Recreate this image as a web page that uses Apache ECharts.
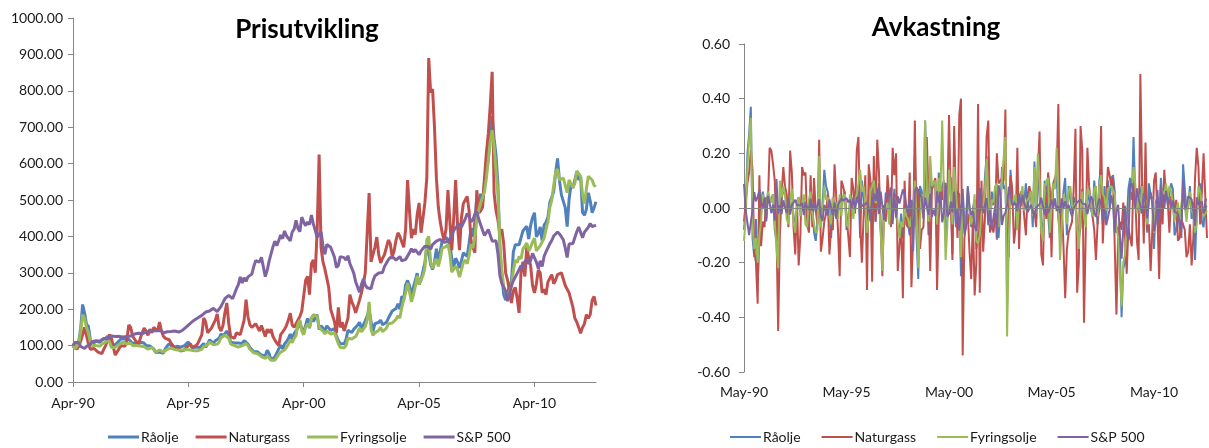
<!DOCTYPE html>
<html>
<head>
<meta charset="utf-8">
<title>Prisutvikling og avkastning</title>
<script src="https://cdn.jsdelivr.net/npm/echarts/dist/echarts.min.js"></script>
<style>
    html, body { margin: 0; padding: 0; background: #fff; }
    #chart { width: 1209px; height: 448px; }
</style>
</head>
<body>
<div id="chart"></div>
<script>
// names of the four series
var seriesNames = ['Råolje', 'Naturgass', 'Fyringsolje', 'S&P 500'];
var seriesColors = ['#4F81BD', '#C0504D', '#9BBB59', '#8064A2'];

// x tick labels (one every 60 months)
var priceTicks = ['Apr-90', 'Apr-95', 'Apr-00', 'Apr-05', 'Apr-10'];
var returnTicks = ['May-90', 'May-95', 'May-00', 'May-05', 'May-10'];
var tickMonths = [0, 60, 120, 180, 240];

// price index, monthly Apr-90 .. Dec-12 (Apr-90 = 100)
var raoljePris = [
    100, 92, 92, 112, 147, 213, 190, 159, 153,
    116, 104, 106, 112, 114, 109, 116, 118, 120, 126, 116, 103,
    102, 102, 105, 113, 119, 121, 118, 115, 117, 113, 106, 105,
    109, 110, 109, 111, 107, 100, 97, 99, 100, 91, 81, 77,
    82, 78, 79, 91, 99, 105, 106, 95, 99, 98, 98, 96,
    99, 100, 104, 110, 102, 94, 95, 96, 94, 95, 98, 106,
    95, 105, 116, 114, 107, 113, 110, 120, 132, 126, 128, 140,
    130, 109, 110, 107, 112, 107, 108, 106, 114, 113, 104, 95,
    93, 83, 84, 83, 82, 74, 76, 72, 87, 78, 60, 65,
    69, 66, 91, 101, 91, 104, 111, 119, 132, 117, 133, 138,
    149, 164, 145, 139, 156, 175, 148, 178, 166, 176, 185, 144,
    155, 148, 142, 154, 153, 142, 142, 147, 126, 114, 105, 107,
    105, 117, 142, 147, 136, 145, 146, 156, 164, 147, 145, 168,
    181, 197, 167, 139, 160, 163, 164, 170, 157, 157, 164, 175,
    178, 195, 193, 202, 215, 200, 236, 227, 267, 279, 265, 235,
    260, 279, 299, 268, 280, 305, 327, 371, 357, 322, 309, 329,
    366, 331, 359, 388, 384, 398, 401, 379, 339, 316, 340, 329,
    313, 333, 355, 354, 345, 381, 422, 399, 440, 509, 478, 517,
    495, 549, 548, 612, 687, 730, 669, 623, 542, 365, 293, 240,
    225, 241, 268, 275, 357, 377, 375, 377, 381, 415, 417, 428,
    393, 430, 452, 465, 399, 408, 426, 388, 431, 439, 453, 493,
    497, 523, 575, 614, 554, 514, 516, 479, 427, 502, 541, 533,
    531, 577, 555, 565, 466, 458, 475, 520, 497, 465, 479, 495
];
var naturgassPris = [
    100, 95, 90, 98, 112, 130, 150, 128, 105,
    90, 88, 92, 88, 82, 85, 78, 90, 100, 118, 130, 120,
    95, 74, 78, 92, 100, 105, 98, 115, 157, 150, 126, 130,
    110, 100, 120, 135, 148, 140, 128, 145, 135, 150, 148, 140,
    165, 140, 126, 120, 118, 116, 107, 100, 92, 88, 92, 85,
    90, 88, 95, 100, 105, 95, 90, 100, 107, 105, 130, 176,
    165, 135, 131, 148, 145, 170, 187, 150, 140, 155, 190, 217,
    160, 125, 126, 120, 135, 140, 130, 150, 170, 226, 180, 157,
    150, 145, 160, 150, 140, 155, 140, 125, 145, 135, 145, 125,
    115, 107, 100, 130, 137, 145, 155, 170, 189, 157, 150, 160,
    165, 180, 195, 200, 280, 290, 240, 325, 335, 300, 420, 625,
    370, 330, 310, 305, 260, 200, 195, 165, 135, 205, 150, 165,
    140, 135, 175, 240, 220, 208, 190, 185, 225, 245, 270, 300,
    300, 519, 330, 327, 370, 398, 350, 327, 340, 350, 370, 390,
    380, 344, 360, 390, 410, 400, 395, 370, 420, 555, 470, 395,
    420, 405, 460, 492, 410, 450, 492, 560, 890, 795, 805, 700,
    560, 480, 440, 410, 390, 420, 527, 440, 362, 450, 555, 430,
    362, 450, 490, 500, 510, 470, 390, 370, 355, 527, 464, 470,
    480, 560, 630, 683, 760, 852, 519, 470, 445, 410, 420, 380,
    300, 280, 250, 217, 250, 260, 230, 190, 300, 330, 290, 370,
    340, 320, 265, 245, 270, 308, 300, 245, 255, 240, 275, 285,
    295, 270, 280, 295, 290, 300, 295, 265, 255, 245, 225, 205,
    175, 165, 150, 134, 150, 160, 185, 175, 185, 225, 235, 210
];
var fyringsoljePris = [
    100, 92, 90, 105, 140, 185, 175, 150, 135,
    110, 100, 95, 100, 102, 98, 104, 108, 110, 116, 110, 95,
    93, 95, 97, 103, 108, 110, 107, 104, 108, 107, 100, 98,
    100, 101, 99, 100, 97, 92, 90, 93, 95, 90, 82, 80,
    88, 84, 82, 87, 90, 92, 93, 88, 89, 88, 87, 86,
    88, 88, 89, 92, 88, 84, 86, 87, 86, 87, 90, 98,
    96, 102, 110, 112, 102, 98, 104, 110, 122, 125, 128, 130,
    120, 104, 102, 100, 102, 96, 100, 100, 104, 106, 100, 90,
    86, 80, 80, 78, 75, 70, 68, 65, 72, 70, 60, 57,
    60, 58, 76, 82, 78, 88, 95, 104, 115, 108, 120, 128,
    160, 170, 140, 130, 150, 160, 150, 175, 185, 182, 180, 150,
    152, 140, 132, 140, 140, 132, 128, 135, 120, 105, 95, 93,
    94, 100, 120, 125, 118, 122, 125, 135, 148, 138, 136, 152,
    170, 220, 145, 128, 135, 138, 142, 150, 138, 142, 148, 160,
    158, 162, 165, 172, 182, 176, 205, 200, 245, 272, 248, 220,
    238, 262, 292, 268, 268, 292, 312, 390, 400, 330, 312, 328,
    338, 318, 338, 368, 372, 372, 378, 352, 302, 298, 318, 308,
    288, 308, 328, 335, 325, 348, 378, 368, 398, 448, 472, 492,
    488, 522, 560, 608, 660, 692, 648, 580, 520, 380, 310, 262,
    245, 232, 248, 262, 305, 335, 328, 345, 338, 365, 370, 382,
    360, 370, 385, 395, 360, 365, 375, 370, 395, 420, 440, 480,
    500, 540, 575, 585, 555, 550, 560, 540, 520, 555, 560, 535,
    545, 580, 575, 565, 515, 490, 530, 565, 570, 555, 540, 537
];
var sp500Pris = [
    100, 109.2, 108.2, 107.7, 97.5, 92.5, 91.9, 97.4, 99.8,
    104.0, 111.0, 113.4, 113.5, 117.8, 112.2, 117.2, 119.5, 117.3, 118.7, 113.4, 126.1,
    123.6, 124.8, 122.0, 125.4, 125.6, 123.4, 128.2, 125.2, 126.3, 126.6, 130.4, 131.7,
    132.7, 134.0, 136.6, 133.1, 136.1, 136.3, 135.5, 140.2, 138.7, 141.4, 139.6, 141.0,
    145.6, 141.2, 134.8, 136.3, 138.0, 134.3, 138.5, 143.7, 139.9, 142.8, 137.2, 138.8,
    142.2, 147.3, 151.4, 155.6, 161.2, 164.7, 169.9, 169.9, 176.7, 175.8, 183.0, 186.2,
    192.3, 193.6, 195.1, 197.8, 202.3, 202.7, 193.4, 197.1, 207.8, 213.2, 228.8, 223.9,
    237.7, 239.1, 228.9, 242.2, 256.4, 267.6, 288.5, 271.9, 286.4, 276.5, 288.8, 293.4,
    296.3, 317.2, 333.1, 336.1, 329.7, 342.8, 338.8, 289.4, 307.4, 332.1, 351.8, 371.6,
    386.8, 374.3, 388.9, 403.6, 393.5, 415.0, 401.7, 399.2, 387.8, 412.0, 419.9, 444.2,
    421.6, 413.1, 453.0, 439.1, 429.5, 439.7, 432.5, 458.8, 434.3, 432.1, 397.6, 399.1,
    413.0, 374.8, 350.8, 377.7, 379.6, 370.1, 366.2, 342.7, 314.7, 320.4, 344.5, 347.1,
    341.7, 334.6, 346.9, 325.6, 322.6, 299.2, 275.6, 276.9, 246.5, 267.8, 283.1, 266.0,
    258.7, 254.3, 256.4, 277.2, 291.3, 294.6, 299.4, 304.7, 301.1, 317.6, 319.9, 336.1,
    341.9, 346.1, 340.5, 334.7, 338.8, 344.9, 333.0, 333.8, 336.9, 341.7, 354.8, 366.4,
    357.1, 363.9, 356.9, 349.7, 360.2, 360.1, 373.1, 368.9, 371.5, 364.9, 377.7, 377.4,
    387.0, 387.2, 391.5, 396.2, 384.0, 384.0, 386.0, 394.2, 403.9, 416.6, 423.4, 428.8,
    434.8, 425.3, 429.5, 448.1, 462.7, 454.5, 440.0, 445.6, 461.6, 468.4, 447.7, 443.9,
    416.8, 402.3, 399.9, 418.9, 423.4, 387.0, 383.2, 387.8, 352.6, 292.9, 270.9, 273.1,
    249.7, 222.2, 241.2, 263.9, 277.9, 277.9, 298.5, 308.5, 319.6, 313.3, 331.2, 337.1,
    324.7, 333.9, 353.5, 358.7, 329.3, 311.6, 333.0, 317.2, 345.0, 357.7, 356.9, 380.2,
    388.8, 401.2, 400.8, 412.2, 406.7, 399.2, 390.7, 368.5, 342.0, 378.9, 377.0, 380.2,
    396.8, 412.9, 425.8, 422.6, 396.1, 411.8, 417.0, 425.2, 435.5, 426.9, 428.1, 431.2
];

// monthly returns May-90 .. Dec-12
var raoljeAvk = [
    -0.08, 0.00, 0.20, 0.27, 0.37, -0.11, -0.18, -0.04,
    -0.28, -0.11, 0.02, 0.06, 0.02, -0.04, 0.06, 0.02, 0.02, 0.05, -0.08, -0.12,
    -0.01, 0.00, 0.03, 0.07, 0.05, 0.02, -0.03, -0.03, 0.02, -0.03, -0.06, -0.01,
    0.04, 0.01, -0.01, 0.02, -0.04, -0.07, -0.03, 0.02, 0.01, -0.09, -0.12, -0.05,
    0.06, -0.05, 0.01, 0.14, 0.08, 0.06, 0.01, -0.11, 0.04, -0.01, 0.00, -0.02,
    0.03, 0.01, 0.04, 0.06, -0.08, -0.08, 0.01, 0.01, -0.02, 0.01, 0.03, 0.08,
    -0.11, 0.10, 0.10, -0.02, -0.06, 0.05, -0.03, 0.09, 0.10, -0.05, 0.02, 0.09,
    -0.07, -0.18, 0.01, -0.03, 0.05, -0.05, 0.01, -0.02, 0.07, -0.01, -0.08, -0.09,
    -0.02, -0.11, 0.01, -0.01, -0.01, -0.10, 0.03, -0.05, 0.19, -0.11, -0.26, 0.08,
    0.06, -0.04, 0.32, 0.10, -0.10, 0.13, 0.07, 0.07, 0.10, -0.12, 0.13, 0.04,
    0.08, 0.10, -0.12, -0.04, 0.12, 0.11, -0.17, 0.18, -0.07, 0.06, 0.05, -0.25,
    0.07, -0.05, -0.04, 0.08, -0.01, -0.07, 0.00, 0.03, -0.15, -0.10, -0.08, 0.02,
    -0.02, 0.11, 0.19, 0.03, -0.08, 0.06, 0.01, 0.07, 0.05, -0.11, -0.01, 0.15,
    0.07, 0.08, -0.17, -0.18, 0.14, 0.02, 0.01, 0.04, -0.08, 0.00, 0.04, 0.06,
    0.02, 0.09, -0.01, 0.05, 0.06, -0.07, 0.17, -0.04, 0.16, 0.04, -0.05, -0.12,
    0.10, 0.07, 0.07, -0.11, 0.04, 0.09, 0.07, 0.13, -0.04, -0.10, -0.04, 0.06,
    0.11, -0.10, 0.08, 0.08, -0.01, 0.04, 0.01, -0.06, -0.11, -0.07, 0.07, -0.03,
    -0.05, 0.06, 0.06, 0.00, -0.03, 0.10, 0.10, -0.06, 0.10, 0.15, -0.06, 0.08,
    -0.04, 0.10, 0.00, 0.11, 0.12, 0.06, -0.09, -0.07, -0.14, -0.40, -0.22, -0.20,
    -0.06, 0.07, 0.11, 0.03, 0.26, 0.05, -0.01, 0.01, 0.01, 0.09, 0.00, 0.03,
    -0.09, 0.09, 0.05, 0.03, -0.15, 0.02, 0.04, -0.09, 0.11, 0.02, 0.03, 0.08,
    0.01, 0.05, 0.09, 0.07, -0.10, -0.08, 0.00, -0.07, -0.11, 0.16, 0.07, -0.01,
    0.00, 0.08, -0.04, 0.02, -0.19, -0.02, 0.04, 0.09, -0.05, -0.07, 0.03, 0.03
];
var naturgassAvk = [
    -0.05, -0.05, 0.09, 0.13, 0.21, 0.14, -0.16, -0.20,
    -0.35, 0.12, -0.14, -0.05, -0.07, 0.04, 0.02, 0.22, 0.21, 0.16, 0.10, -0.08,
    -0.45, -0.10, 0.05, 0.15, 0.08, 0.05, -0.07, 0.21, 0.13, -0.07, -0.17, 0.03,
    -0.21, -0.10, 0.15, 0.12, 0.13, -0.06, -0.09, 0.12, -0.07, 0.11, -0.01, -0.06,
    0.25, -0.16, -0.11, -0.05, -0.02, 0.05, -0.17, -0.07, -0.08, 0.16, 0.04, -0.08,
    -0.25, 0.10, 0.08, 0.05, 0.05, -0.10, -0.18, 0.11, 0.07, -0.02, 0.21, 0.26,
    -0.06, -0.20, -0.03, 0.12, -0.30, 0.16, 0.10, -0.27, 0.19, -0.05, 0.25, 0.13,
    -0.08, -0.25, 0.01, -0.05, 0.12, 0.04, -0.07, 0.22, 0.12, 0.20, -0.23, -0.14,
    -0.05, -0.33, 0.10, -0.06, -0.07, 0.13, -0.29, -0.11, 0.32, -0.07, 0.07, -0.15,
    -0.08, -0.07, -0.07, 0.26, 0.05, -0.23, 0.07, 0.09, 0.11, -0.30, -0.04, 0.06,
    0.03, 0.09, 0.08, 0.03, 0.34, 0.04, -0.19, 0.30, 0.03, -0.11, 0.34, 0.40,
    -0.54, -0.11, -0.06, -0.02, -0.16, -0.26, -0.03, -0.32, -0.20, 0.38, -0.31, 0.10,
    -0.16, -0.04, 0.26, 0.32, -0.09, -0.06, -0.09, -0.03, 0.20, 0.09, 0.10, 0.11,
    0.10, 0.36, -0.35, -0.01, 0.12, 0.07, -0.13, -0.07, 0.22, -0.15, 0.06, 0.05,
    -0.03, -0.10, 0.05, 0.08, 0.05, -0.02, -0.01, -0.07, 0.13, 0.28, -0.17, -0.21,
    0.06, -0.04, 0.13, 0.07, -0.18, 0.09, 0.09, 0.13, 0.38, -0.11, 0.01, -0.14,
    -0.33, -0.15, -0.09, -0.07, -0.05, 0.07, 0.29, -0.31, -0.20, 0.30, 0.21, -0.42,
    -0.10, 0.22, 0.08, 0.02, 0.02, -0.08, -0.19, -0.05, 0.00, 0.30, -0.13, 0.01,
    0.02, 0.15, 0.12, 0.08, 0.11, 0.11, -0.39, -0.10, -0.05, -0.08, 0.02, -0.10,
    -0.24, -0.07, -0.11, -0.14, 0.14, 0.04, -0.12, -0.19, 0.49, 0.10, -0.13, 0.24,
    -0.08, -0.06, -0.23, -0.08, 0.10, 0.13, -0.03, -0.26, 0.04, -0.06, 0.14, 0.04,
    0.03, -0.09, 0.04, 0.05, -0.02, 0.03, -0.12, -0.11, -0.04, -0.04, -0.08, -0.18,
    -0.16, -0.06, -0.21, -0.11, 0.11, 0.22, 0.15, -0.06, 0.06, 0.20, 0.04, -0.11
];
var fyringsoljeAvk = [
    -0.12, -0.04, 0.15, 0.25, 0.33, -0.06, -0.15, -0.11,
    -0.20, -0.10, -0.05, 0.05, 0.02, -0.04, 0.06, 0.04, 0.02, 0.05, -0.05, -0.15,
    -0.22, 0.10, 0.04, 0.08, 0.05, -0.04, -0.06, 0.03, 0.07, -0.05, -0.09, 0.02,
    0.04, -0.03, 0.02, 0.05, -0.06, -0.07, 0.03, 0.06, -0.02, -0.06, -0.09, -0.08,
    0.19, -0.07, -0.02, 0.08, 0.03, 0.04, -0.03, -0.06, 0.04, -0.03, 0.02, -0.04,
    0.05, -0.03, 0.04, 0.05, -0.06, -0.07, 0.05, 0.02, -0.04, 0.03, 0.05, 0.09,
    0.14, 0.06, 0.08, 0.02, -0.09, -0.04, 0.06, 0.06, 0.10, 0.02, 0.02, 0.02,
    -0.08, -0.23, -0.02, -0.02, 0.02, -0.06, 0.04, 0.00, 0.04, 0.02, -0.06, -0.11,
    -0.05, -0.07, 0.00, -0.03, -0.04, -0.07, -0.03, -0.05, 0.10, -0.03, -0.22, -0.05,
    0.05, -0.03, 0.32, 0.08, -0.05, 0.19, 0.08, 0.09, 0.10, -0.06, 0.11, 0.06,
    0.32, 0.06, -0.19, -0.07, 0.14, 0.06, -0.06, 0.15, 0.06, -0.02, -0.01, -0.18,
    0.01, -0.08, -0.06, 0.06, 0.00, -0.06, -0.03, 0.05, -0.12, -0.13, -0.10, -0.02,
    0.01, 0.06, 0.18, 0.04, -0.06, 0.03, 0.02, 0.08, 0.09, -0.07, -0.01, 0.11,
    0.11, 0.26, -0.47, -0.12, 0.05, 0.02, 0.03, 0.05, -0.08, 0.03, 0.04, 0.08,
    -0.01, 0.02, 0.02, 0.04, 0.06, -0.03, 0.15, -0.02, 0.20, 0.10, -0.09, -0.12,
    0.08, 0.10, 0.11, -0.09, 0.00, 0.09, 0.07, 0.22, 0.03, -0.19, -0.06, 0.05,
    0.03, -0.06, 0.06, 0.08, 0.01, 0.00, 0.02, -0.07, -0.15, -0.01, 0.06, -0.03,
    -0.07, 0.07, 0.06, 0.02, -0.03, 0.07, 0.08, -0.03, 0.08, 0.12, 0.05, 0.04,
    -0.01, 0.07, 0.07, 0.08, 0.08, 0.05, -0.07, -0.11, -0.11, -0.36, -0.20, -0.17,
    -0.07, -0.05, 0.07, 0.06, 0.15, 0.09, -0.02, 0.05, -0.02, 0.08, 0.01, 0.03,
    -0.06, 0.03, 0.04, 0.03, -0.09, 0.01, 0.03, -0.01, 0.07, 0.06, 0.05, 0.09,
    0.04, 0.08, 0.06, 0.02, -0.05, -0.01, 0.02, -0.04, -0.04, 0.07, 0.01, -0.05,
    0.02, 0.06, -0.01, -0.02, -0.09, -0.05, 0.08, 0.06, 0.01, -0.03, -0.03, -0.01
];
var sp500Avk = [
    0.088, -0.009, -0.005, -0.099, -0.053, -0.007, 0.058, 0.024,
    0.041, 0.065, 0.022, 0.000, 0.037, -0.049, 0.044, 0.019, -0.019, 0.012, -0.046, 0.106,
    -0.020, 0.010, -0.022, 0.028, 0.002, -0.018, 0.038, -0.024, 0.009, 0.002, 0.030, 0.010,
    0.007, 0.010, 0.019, -0.026, 0.022, 0.002, -0.006, 0.034, -0.010, 0.019, -0.013, 0.010,
    0.032, -0.031, -0.047, 0.011, 0.012, -0.027, 0.031, 0.037, -0.027, 0.021, -0.040, 0.012,
    0.024, 0.035, 0.027, 0.028, 0.036, 0.021, 0.031, 0.000, 0.039, -0.005, 0.040, 0.017,
    0.032, 0.007, 0.008, 0.013, 0.022, 0.002, -0.047, 0.019, 0.053, 0.026, 0.071, -0.022,
    0.060, 0.006, -0.044, 0.056, 0.057, 0.043, 0.075, -0.059, 0.052, -0.035, 0.043, 0.016,
    0.010, 0.068, 0.049, 0.009, -0.019, 0.039, -0.012, -0.158, 0.060, 0.077, 0.057, 0.055,
    0.040, -0.033, 0.038, 0.037, -0.025, 0.053, -0.033, -0.006, -0.029, 0.061, 0.019, 0.056,
    -0.052, -0.020, 0.092, -0.031, -0.022, 0.023, -0.016, 0.059, -0.055, -0.005, -0.083, 0.004,
    0.034, -0.097, -0.066, 0.074, 0.005, -0.025, -0.011, -0.066, -0.085, 0.018, 0.073, 0.008,
    -0.016, -0.021, 0.036, -0.063, -0.009, -0.076, -0.082, 0.005, -0.116, 0.083, 0.055, -0.062,
    -0.028, -0.017, 0.008, 0.078, 0.049, 0.011, 0.016, 0.018, -0.012, 0.053, 0.007, 0.049,
    0.017, 0.012, -0.016, -0.017, 0.012, 0.018, -0.035, 0.002, 0.009, 0.014, 0.038, 0.032,
    -0.026, 0.019, -0.019, -0.020, 0.030, 0.000, 0.035, -0.011, 0.007, -0.018, 0.035, -0.001,
    0.025, 0.000, 0.011, 0.012, -0.031, 0.000, 0.005, 0.021, 0.024, 0.031, 0.016, 0.013,
    0.014, -0.022, 0.010, 0.042, 0.032, -0.018, -0.032, 0.013, 0.035, 0.015, -0.045, -0.009,
    -0.063, -0.035, -0.006, 0.046, 0.011, -0.090, -0.010, 0.012, -0.095, -0.185, -0.078, 0.008,
    -0.090, -0.117, 0.082, 0.090, 0.052, 0.000, 0.072, 0.033, 0.035, -0.020, 0.055, 0.018,
    -0.038, 0.028, 0.057, 0.015, -0.086, -0.055, 0.066, -0.049, 0.084, 0.036, -0.002, 0.063,
    0.022, 0.031, -0.001, 0.028, -0.013, -0.019, -0.021, -0.058, -0.075, 0.102, -0.005, 0.008,
    0.043, 0.040, 0.031, -0.008, -0.065, 0.039, 0.013, 0.019, 0.024, -0.020, 0.003, 0.007
];

var FONT = 'Lato, "Liberation Sans", sans-serif';
var AXIS_GREY = '#868686';

function toPoints(values) {
    return values.map(function (v, i) { return [i, v]; });
}

function fixed2(v) {
    if (Math.abs(v) < 1e-9) return '0.00';
    return v.toFixed(2);
}

function makeLine(name, color, values, idx, width) {
    return {
        name: name,
        type: 'line',
        xAxisIndex: idx,
        yAxisIndex: idx,
        data: toPoints(values),
        symbol: 'none',
        lineStyle: { width: width, color: color },
        itemStyle: { color: color },
        emphasis: { disabled: true }
    };
}

var pris = [raoljePris, naturgassPris, fyringsoljePris, sp500Pris];
var avk = [raoljeAvk, naturgassAvk, fyringsoljeAvk, sp500Avk];

var series = [];
seriesNames.forEach(function (name, i) {
    series.push(makeLine(name, seriesColors[i], pris[i], 0, 3));
});
seriesNames.forEach(function (name, i) {
    var s = makeLine(name, seriesColors[i], avk[i], 1, 2);
    if (i === 0) {
        // category axis of the return chart crosses at zero
        s.markLine = {
            silent: true,
            symbol: 'none',
            label: { show: false },
            lineStyle: { color: AXIS_GREY, width: 1, type: 'solid' },
            data: [{ yAxis: 0 }]
        };
    }
    series.push(s);
});

var axisText = { color: '#1a1a1a', fontSize: 14, fontFamily: FONT };
var legendText = { fontSize: 14, color: '#1a1a1a', fontFamily: FONT, padding: [0, 0, 0, -3] };

var option = {
    animation: false,
    backgroundColor: '#fff',
    textStyle: { fontFamily: FONT },
    title: [
        {
            text: 'Prisutvikling', left: 307, top: 17, textAlign: 'center', padding: 0,
            textStyle: { fontSize: 26, fontWeight: 'bold', color: '#000', fontFamily: FONT }
        },
        {
            text: 'Avkastning', left: 936, top: 15, textAlign: 'center', padding: 0,
            textStyle: { fontSize: 26, fontWeight: 'bold', color: '#000', fontFamily: FONT }
        }
    ],
    legend: [
        {
            data: seriesNames, left: 108, top: 430, padding: 0,
            icon: 'rect', itemWidth: 31, itemHeight: 3, itemGap: 17,
            textStyle: legendText,
            selectedMode: false
        },
        {
            data: seriesNames, left: 730, top: 430, padding: 0,
            icon: 'rect', itemWidth: 31, itemHeight: 2, itemGap: 21,
            textStyle: legendText,
            selectedMode: false
        }
    ],
    grid: [
        { left: 73, top: 18, width: 523, height: 364 },
        { left: 744, top: 44, width: 463, height: 328 }
    ],
    xAxis: [
        {
            gridIndex: 0, type: 'value', min: 0, max: 272,
            axisLine: { show: true, lineStyle: { color: AXIS_GREY } },
            axisTick: { show: true, length: 5, customValues: tickMonths, lineStyle: { color: AXIS_GREY } },
            axisLabel: Object.assign({
                margin: 14, customValues: tickMonths,
                formatter: function (v) { return priceTicks[Math.round(v / 60)] || ''; }
            }, axisText),
            splitLine: { show: false }
        },
        {
            gridIndex: 1, type: 'value', min: 0, max: 271,
            axisLine: { show: false, onZero: false },
            axisTick: { show: false },
            axisLabel: Object.assign({
                margin: 13, customValues: tickMonths,
                formatter: function (v) { return returnTicks[Math.round(v / 60)] || ''; }
            }, axisText),
            splitLine: { show: false }
        }
    ],
    yAxis: [
        {
            gridIndex: 0, type: 'value', min: 0, max: 1000, interval: 100,
            axisLine: { show: true, lineStyle: { color: AXIS_GREY } },
            axisTick: { show: true, length: 5, lineStyle: { color: AXIS_GREY } },
            axisLabel: Object.assign({ margin: 10, formatter: fixed2 }, axisText),
            splitLine: { show: false }
        },
        {
            gridIndex: 1, type: 'value', min: -0.6, max: 0.6, interval: 0.2,
            axisLine: { show: true, lineStyle: { color: AXIS_GREY } },
            axisTick: { show: true, length: 5, lineStyle: { color: AXIS_GREY } },
            axisLabel: Object.assign({ margin: 14, formatter: fixed2 }, axisText),
            splitLine: { show: false }
        }
    ],
    series: series
};

var chart = echarts.init(document.getElementById('chart'), null, { renderer: 'canvas' });
chart.setOption(option);
</script>
</body>
</html>
